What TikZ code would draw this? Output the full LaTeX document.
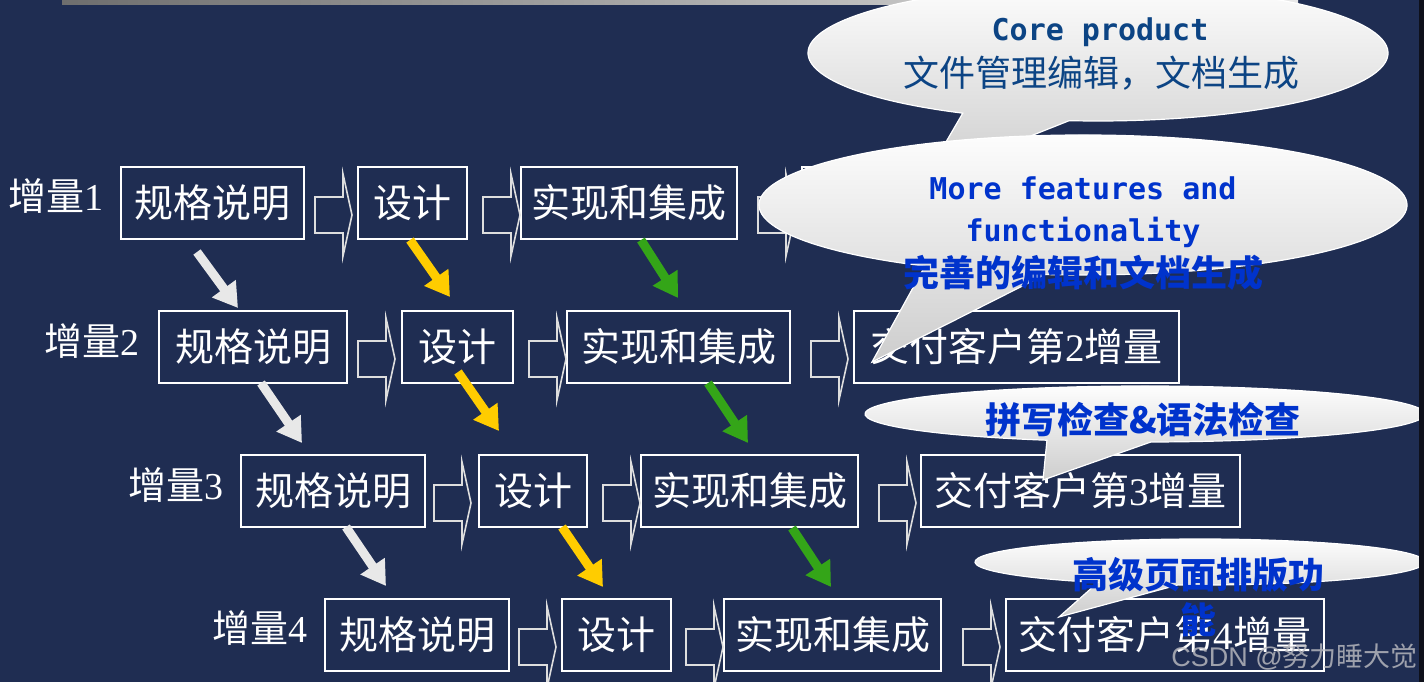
\documentclass[tikz,border=0pt]{standalone}
\usepackage{fontspec}
\setmainfont{Liberation Serif}
\newfontfamily\cjk{Noto Sans CJK SC}
\newfontfamily\monofnt{DejaVu Sans Mono}
\newfontfamily\wmfont{Liberation Sans}
\usetikzlibrary{arrows.meta,calc}
\definecolor{bg}{RGB}{31,45,82}
\definecolor{dkblue}{RGB}{12,68,132}
\definecolor{brblue}{RGB}{0,51,204}
\definecolor{ylw}{RGB}{255,204,0}
\definecolor{grn}{RGB}{52,165,24}
\definecolor{wht}{RGB}{232,232,232}
\definecolor{arrgray}{RGB}{222,222,222}
\definecolor{bubgray}{RGB}{205,205,205}
\definecolor{barleft}{RGB}{110,110,110}
\definecolor{barright}{RGB}{232,232,232}
\definecolor{edgedark}{RGB}{14,16,26}
\definecolor{wmgray}{RGB}{190,190,195}
\newcommand\barrow[2]{\draw[blockarr] (#1,#2-18) -- ++(28,0) -- ++(0,-23) -- ++(9,41) -- ++(-9,41) -- ++(0,-23) -- ++(-28,0) -- cycle;}
\begin{document}
\begin{tikzpicture}[x=1pt,y=-1pt,
  box/.style={draw=white, line width=1.6pt, inner sep=0pt, minimum height=72pt, text=white,
    font=\cjk\fontsize{39}{39}\selectfont, text height=32pt, text depth=3pt},
  lbl/.style={text=white, inner sep=0pt, font=\cjk\fontsize{38}{38}\selectfont, text height=32pt, text depth=3pt},
  blockarr/.style={draw=arrgray, line width=1.6pt, fill=bg, line join=miter},
  diag/.style={line width=9pt, -{Triangle[width=28pt,length=24pt]}},
  bubble/.style={top color=white, bottom color=bubgray, draw=white, line width=1.2pt},
  cjb/.style={inner sep=0pt, font=\cjk\bfseries\fontsize{36}{36}\selectfont, text height=30pt, text depth=2.5pt},
  cjr/.style={inner sep=0pt, font=\cjk\fontsize{36}{36}\selectfont, text height=30pt, text depth=2.5pt},
  lat/.style={inner sep=0pt, anchor=base, font=\monofnt\bfseries\fontsize{30}{30}\selectfont}]
\useasboundingbox (0,0) rectangle (1424,682);
\fill[bg] (0,0) rectangle (1424,682);
\shade[left color=barleft, right color=barright] (62,0) rectangle (1298,5);

% labels
\node[lbl] (l1) at (56,196) {增量{\rmfamily 1}};
\node[lbl] (l2) at (92,341) {增量{\rmfamily 2}};
\node[lbl] (l3) at (176,485) {增量{\rmfamily 3}};
\node[lbl] (l4) at (260,628) {增量{\rmfamily 4}};

% row 1
\node[box, minimum width=183pt] (r1a) at (212.5,203) {规格说明};
\node[box, minimum width=109pt] (r1b) at (412.5,203) {设计};
\node[box, minimum width=216pt] (r1c) at (629,203) {实现和集成};
\node[box, minimum width=325pt] (r1d) at (964.5,203) {};
% row 2
\node[box, minimum width=188pt] (r2a) at (253,347) {规格说明};
\node[box, minimum width=111pt] (r2b) at (457.5,347) {设计};
\node[box, minimum width=223pt] (r2c) at (678.5,347) {实现和集成};
\node[box, minimum width=325pt] (r2d) at (1016.5,347) {交付客户第{\rmfamily 2}增量};
% row 3
\node[box, minimum width=184pt] (r3a) at (333,491) {规格说明};
\node[box, minimum width=108pt] (r3b) at (533,491) {设计};
\node[box, minimum width=217pt] (r3c) at (749.5,491) {实现和集成};
\node[box, minimum width=319pt] (r3d) at (1080.5,491) {交付客户第{\rmfamily 3}增量};
% row 4
\node[box, minimum width=184pt] (r4a) at (417,635) {规格说明};
\node[box, minimum width=109pt] (r4b) at (616.5,635) {设计};
\node[box, minimum width=217pt] (r4c) at (832.5,635) {实现和集成};
\node[box, minimum width=318pt] (r4d) at (1165,635) {交付客户第{\rmfamily 4}增量};

% block arrows
\barrow{315}{215}\barrow{483}{215}\barrow{758}{215}
\barrow{358}{359}\barrow{529}{359}\barrow{811}{359}
\barrow{434}{503}\barrow{603}{503}\barrow{879}{503}
\barrow{519}{647}\barrow{686}{647}\barrow{963}{647}

% diagonal arrows
\coordinate (w1s) at (197,252); \coordinate (w1e) at (238,308);
\coordinate (y1s) at (410,240); \coordinate (y1e) at (450,297);
\coordinate (g1s) at (641,240); \coordinate (g1e) at (678,298);
\coordinate (w2s) at (261,383); \coordinate (w2e) at (302,443);
\coordinate (y2s) at (458,372); \coordinate (y2e) at (499,431);
\coordinate (g2s) at (708,383); \coordinate (g2e) at (748,443);
\coordinate (w3s) at (346,527); \coordinate (w3e) at (386,586);
\coordinate (y3s) at (562,527); \coordinate (y3e) at (603,587);
\coordinate (g3s) at (792,528); \coordinate (g3e) at (831,587);
\foreach \a in {1,2,3}{
  \draw[diag, color=wht] (w\a s) -- (w\a e);
  \draw[diag, color=ylw] (y\a s) -- (y\a e);
  \draw[diag, color=grn] (g\a s) -- (g\a e);
}

% bubble 1
\coordinate (b1c) at (1098,53);
\coordinate (b1t) at (925,178);
\path[bubble] (b1t) -- ($(b1c)+(117.8:290 and 68)$) arc[start angle=117.8, end angle=455.7, x radius=290, y radius=68] -- cycle;
\node[lat, text=dkblue] (t1a) at (1100,41) {Core product};
\node[cjr, text=dkblue] (t1b) at (1101,72.5) {文件管理编辑，文档生成};

% bubble 2
\coordinate (b2c) at (1083,205);
\coordinate (b2t) at (872,362);
\path[bubble] (b2t) -- ($(b2c)+(119.2:324 and 70)$) arc[start angle=119.2, end angle=456.7, x radius=324, y radius=70] -- cycle;
\node[lat, text=brblue] (t2a) at (1083,199) {More features and};
\node[lat, text=brblue] (t2b) at (1083,241) {functionality};
\node[cjb, text=brblue] (t2c) at (1083,273) {完善的编辑和文档生成};

% bubble 3
\coordinate (b3c) at (1145,414);
\coordinate (b3t) at (1043,480);
\path[bubble] (b3t) -- ($(b3c)+(110.5:280 and 28)$) arc[start angle=110.5, end angle=448.8, x radius=280, y radius=28] -- cycle;
\node[cjb, text=brblue] (t3) at (1143,420) {拼写检查\&语法检查};

% bubble 4
\coordinate (b4c) at (1200,562);
\coordinate (b4t) at (1059,617);
\path[bubble] (b4t) -- ($(b4c)+(117:225 and 23)$) arc[start angle=117, end angle=455.6, x radius=225, y radius=23] -- cycle;
\node[cjb, text=brblue] (t4a) at (1198,575) {高级页面排版功};
\node[cjb, text=brblue] (t4b) at (1198,620) {能};

% watermark
\node[anchor=east, inner sep=0pt, text=wmgray, opacity=0.8,
  font=\wmfont\fontsize{27}{27}\selectfont] (wm) at (1418,657) {CSDN @{\cjk 努力睡大觉}};

% dark right edge
\fill[edgedark] (1419,0) rectangle (1424,682);
\end{tikzpicture}
\end{document}
